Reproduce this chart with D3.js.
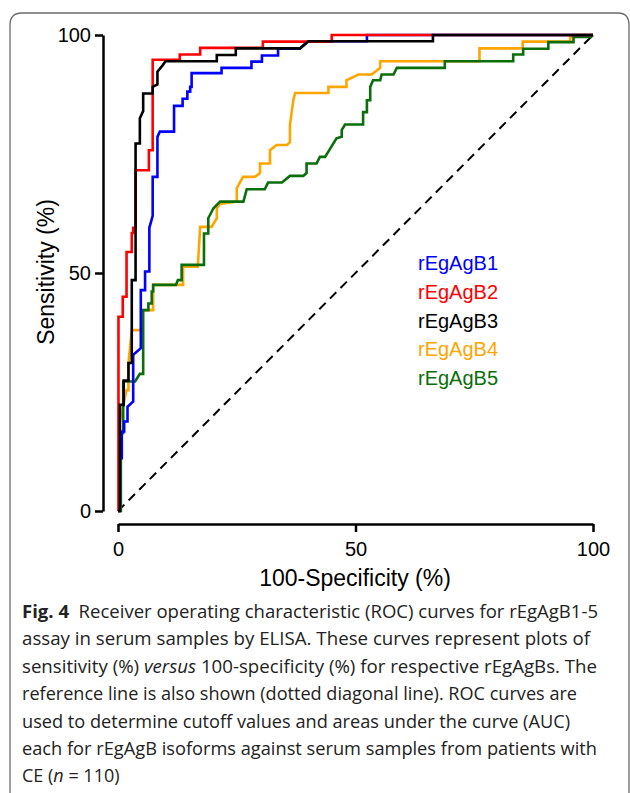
<!DOCTYPE html>
<html>
<head>
<meta charset="utf-8">
<script src="https://cdn.jsdelivr.net/npm/d3@7"></script>
<style>
  html, body { margin: 0; padding: 0; background: #fff; }
  svg { display: block; }
</style>
</head>
<body>
<div id="chart"></div>
<script>
// ROC curves, values: [100-specificity %, sensitivity %]
var rEgAgB1 = [[0,0],[0.3,0],[0.3,11.1],[0.8,11.1],[0.8,16.7],[1.3,16.7],[1.3,18.8],[2,18.8],[2,21.9],[3.2,23],
    [3.2,32.8],[4.8,34.2],[4.8,46.4],[5.7,46.4],[5.7,50.3],[6.6,50.3],[6.6,59.5],[7.3,62],[7.3,70.2],[8.3,70.2],
    [8.3,78.6],[8.8,79.7],[11.8,79.7],[11.8,85.1],[13.6,85.1],[13.6,86.6],[14.6,86.6],[14.6,88.1],[15.2,88.1],
    [15.2,89.1],[15.5,89.1],[15.5,92],[21.8,92],[21.8,93.1],[28.1,93.1],[28.1,94.4],[30.3,94.4],[30.3,95.7],
    [33.7,95.7],[33.7,97.1],[38.3,97.1],[40,98.7],[52.4,98.7],[52.4,100],[100,100]];
var rEgAgB2 = [[0,0],[0.1,0],[0.1,40.8],[1,40.8],[1,45],[1.8,45],[1.8,54.4],[2.9,54.4],[2.9,58.4],[3.2,58.4],
    [3.2,59.5],[3.7,59.5],[3.7,71.6],[6.5,71.6],[6.5,75.8],[7.3,75.8],[7.3,94.8],[13,94.8],[13,95.9],[17.3,95.9],
    [17.3,97.3],[30.5,97.3],[30.5,98.6],[45,98.6],[45,100],[100,100]];
var rEgAgB3 = [[0,0],[0.4,0],[0.4,22.3],[1.2,22.3],[1.2,27.4],[2.2,27.4],[2.2,31.1],[2.9,31.1],[2.9,48.5],
    [3.7,48.5],[3.7,77.2],[4.6,77.2],[4.6,82.5],[5.3,84],[5.3,87.7],[7.3,87.7],[7.3,89.1],[8.3,89.6],[8.3,92.3],
    [9.3,93.5],[10,94.5],[20.8,94.5],[20.8,95.8],[24.8,95.8],[24.8,97.2],[38.3,97.2],[40.1,98.7],[66.3,98.7],
    [66.3,100],[100,100]];
var rEgAgB4 = [[0,0],[0.3,0],[0.3,18.7],[0.6,19.7],[1.8,25.4],[2.2,25.4],[2.2,31],[2.9,38],[5.2,38],[5.2,42.2],
    [7.4,42.2],[7.4,47.5],[13.7,47.5],[13.7,51.3],[16.8,51.3],[17.3,59.7],[19.7,59.7],[20.8,61.5],[20.8,63.6],
    [21.5,64.5],[25,65],[25,67.8],[26.3,70.2],[28.8,70.2],[29.9,71],[29.9,73],[32,73],[32,75.8],[33.4,76.9],
    [35.6,76.9],[36.2,77.5],[36.2,81.1],[36.9,86.3],[37.3,87.8],[44.3,87.8],[44.3,89.1],[48.1,89.1],[48.1,90.5],
    [50.6,91.7],[53.4,91.7],[55.2,93.1],[55.2,94.5],[76.1,94.5],[76.1,97.2],[85.2,97.2],[85.2,98.6],[95.2,98.6],
    [95.2,99.6],[96.2,99.6],[96.2,100],[100,100]];
var rEgAgB5 = [[0,0],[0.6,0],[0.6,16.4],[1.1,16.4],[1.1,27.2],[3.6,27.2],[4.6,28.8],[5.3,28.8],[5.3,42.2],
    [6.4,42.2],[6.4,43.6],[7.1,43.6],[7.1,46.1],[7.4,46.1],[7.4,47.5],[12.2,47.5],[12.6,48.5],[13.4,48.5],
    [13.4,51.7],[18.1,51.7],[18.1,58.3],[19,58.3],[19,61.5],[20.1,63.6],[21.5,65],[26.4,65],[27.1,67.6],
    [30.9,67.6],[31.6,69],[34.5,69],[36.2,70.4],[39,70.4],[39.7,71],[39.7,73],[41.8,73],[42.5,74.4],[43.6,74.4],
    [46,78.3],[47.1,78.6],[47.1,80],[47.8,81.2],[51.6,81.2],[51.6,83.8],[52.4,83.8],[52.4,86.3],[53.1,86.3],
    [53.1,89.1],[53.7,90.5],[55.2,90.5],[55.5,91.7],[58,91.7],[58.7,93.1],[68.8,93.1],[68.8,94.5],[83.2,94.5],
    [83.2,95.9],[85.3,95.9],[85.3,97.1],[90.6,97.1],[90.6,98.5],[95.9,98.5],[95.9,99.6],[99.6,99.6],[100,100]];

var seriesNames = ["rEgAgB1", "rEgAgB2", "rEgAgB3", "rEgAgB4", "rEgAgB5"];
var seriesData = [rEgAgB1, rEgAgB2, rEgAgB3, rEgAgB4, rEgAgB5];
var seriesColors = ["#0000ff", "#ff0000", "#000000", "#ffa500", "#0a6e0a"];
var drawOrder = [3, 4, 0, 1, 2]; // black ends up on top, as in the figure
var tickValues = [0, 50, 100];

var captionLines = [
    [["Fig. 4", "bold"], ["  Receiver operating characteristic (ROC) curves for rEgAgB1-5", ""]],
    [["assay in serum samples by ELISA. These curves represent plots of", ""]],
    [["sensitivity (%) ", ""], ["versus", "italic"], [" 100-specificity (%) for respective rEgAgBs. The", ""]],
    [["reference line is also shown (dotted diagonal line). ROC curves are", ""]],
    [["used to determine cutoff values and areas under the curve (AUC)", ""]],
    [["each for rEgAgB isoforms against serum samples from patients with", ""]],
    [["CE (", ""], ["n", "italic"], [" = 110)", ""]]
];
var captionWidths = [576, 568, 575, 555, 548, 575, null];

var width = 630, height = 793;
var svg = d3.select("#chart").append("svg")
    .attr("width", width)
    .attr("height", height);

// frame of the figure box (open at the bottom)
svg.append("path")
    .attr("d", "M10,793 L10,25 Q10,13 22,13 L618,13 Q629,13 629,25 L629,793")
    .attr("fill", "none")
    .attr("stroke", "#6b6b6b")
    .attr("stroke-width", 1.3);

var x = d3.scaleLinear().domain([0, 100]).range([118, 593]);
var y = d3.scaleLinear().domain([0, 100]).range([511, 35]);

var font = "'Liberation Sans', Arial, sans-serif";

// y axis
var yAxis = svg.append("g")
    .attr("transform", "translate(103,0)")
    .call(d3.axisLeft(y).tickValues(tickValues).tickSize(8).tickSizeOuter(0).tickPadding(4));
// x axis, set a bit below the plot
var xAxis = svg.append("g")
    .attr("transform", "translate(0,524)")
    .call(d3.axisBottom(x).tickValues(tickValues).tickSize(8).tickSizeOuter(0).tickPadding(10));

[yAxis, xAxis].forEach(function(g) {
    g.select(".domain").attr("stroke", "#000").attr("stroke-width", 2.5);
    g.selectAll(".tick line").attr("stroke", "#000").attr("stroke-width", 2.5);
    g.selectAll(".tick text")
        .attr("fill", "#000")
        .style("font-family", font)
        .style("font-size", "20px");
});

svg.append("text")
    .attr("transform", "translate(54,272) rotate(-90)")
    .attr("text-anchor", "middle")
    .style("font-family", font)
    .style("font-size", "23px")
    .text("Sensitivity (%)");

svg.append("text")
    .attr("x", 355)
    .attr("y", 586)
    .attr("text-anchor", "middle")
    .style("font-family", font)
    .style("font-size", "23px")
    .text("100-Specificity (%)");

// reference diagonal
svg.append("line")
    .attr("x1", x(0)).attr("y1", y(0))
    .attr("x2", x(100)).attr("y2", y(100))
    .attr("stroke", "#000")
    .attr("stroke-width", 2)
    .attr("stroke-dasharray", "9,6");

var line = d3.line()
    .x(function(d) { return x(d[0]); })
    .y(function(d) { return y(d[1]); });

svg.append("g").selectAll("path")
    .data(drawOrder)
    .enter().append("path")
    .attr("d", function(i) { return line(seriesData[i]); })
    .attr("fill", "none")
    .attr("stroke", function(i) { return seriesColors[i]; })
    .attr("stroke-width", 2.6)
    .attr("stroke-linejoin", "miter");

// legend
svg.append("g").selectAll("text")
    .data(seriesNames)
    .enter().append("text")
    .attr("x", 418)
    .attr("y", function(d, i) { return 270 + i * 28.8; })
    .attr("fill", function(d, i) { return seriesColors[i]; })
    .style("font-family", font)
    .style("font-size", "20px")
    .text(function(d) { return d; });

// caption
var cap = svg.append("g")
    .style("font-family", "'Open Sans', 'Noto Sans', sans-serif")
    .style("font-size", "18px")
    .attr("fill", "#222");

captionLines.forEach(function(parts, i) {
    var t = cap.append("text")
        .attr("x", 22)
        .attr("y", 618 + i * 27.4);
    if (captionWidths[i]) {
        t.attr("textLength", captionWidths[i]).attr("lengthAdjust", "spacingAndGlyphs");
    }
    parts.forEach(function(p) {
        var s = t.append("tspan").text(p[0]);
        if (p[1] === "bold") s.style("font-weight", "bold");
        if (p[1] === "italic") s.style("font-style", "italic");
    });
    t.attr("xml:space", "preserve");
});
</script>
</body>
</html>
